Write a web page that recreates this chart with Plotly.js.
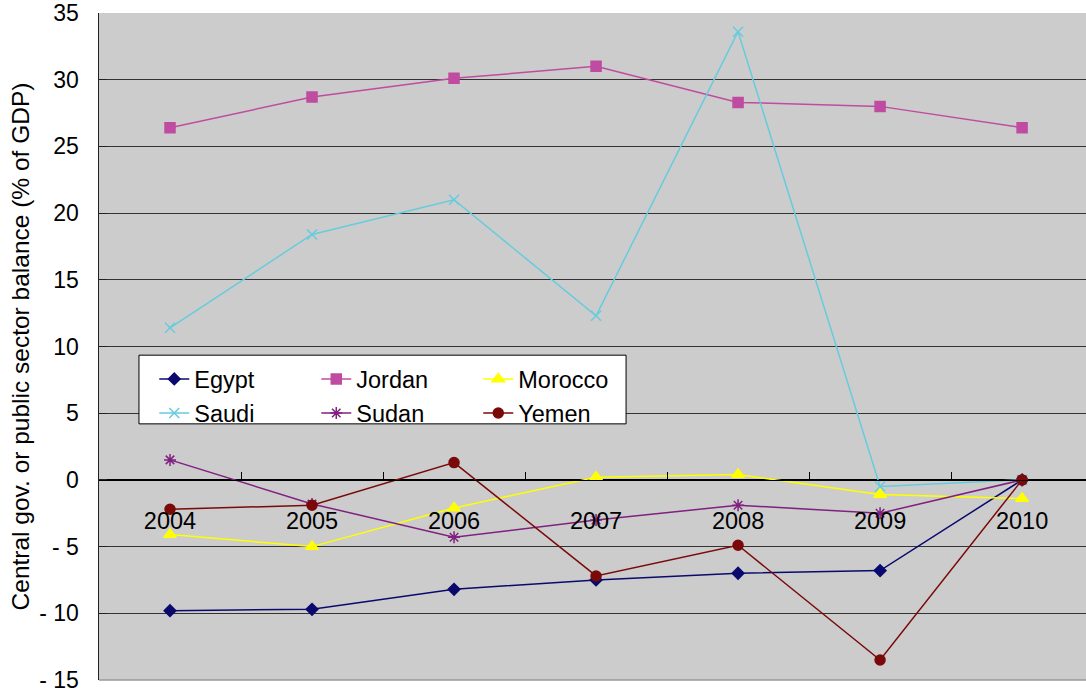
<!DOCTYPE html>
<html>
<head>
<meta charset="utf-8">
<script src="https://cdn.plot.ly/plotly-3.0.1.min.js"></script>
<style>html,body{margin:0;padding:0;background:#fff;}#chart{width:1086px;height:699px;}</style>
</head>
<body>
<div id="chart"></div>
<script>
const years = ['2004','2005','2006','2007','2008','2009','2010'];
const egypt   = [-9.8, -9.7, -8.2, -7.5, -7.0, -6.8, 0.0];
const jordan  = [26.4, 28.7, 30.1, 31.0, 28.3, 28.0, 26.4];
const morocco = [-4.1, -5.0, -2.1, 0.2, 0.4, -1.1, -1.4];
const saudi   = [11.4, 18.4, 21.0, 12.3, 33.6, -0.5, 0.0];
const sudan   = [1.5, -1.8, -4.3, -3.0, -1.9, -2.5, 0.0];
const yemen   = [-2.2, -1.9, 1.3, -7.2, -4.9, -13.5, 0.0];
const yTickVals = [-15, -10, -5, 0, 5, 10, 15, 20, 25, 30, 35];
const yTickText = ['- 15', '- 10', '- 5', '0', '5', '10', '15', '20', '25', '30', '35'];

const FONT = 'Liberation Sans, Arial, sans-serif';

function tr(name, y, color, symbol, size, legend) {
  return {
    type: 'scatter', mode: 'lines+markers', name: name, x: years, y: y,
    line: {color: color, width: 1.5},
    marker: {color: color, symbol: symbol, size: size, line: {color: color, width: 1.5}},
    legend: legend
  };
}

const data = [
  tr('Egypt', egypt, '#0A0A6E', 'diamond', 9, 'legend'),
  tr('Jordan', jordan, '#BF4CA0', 'square', 10, 'legend'),
  tr('Morocco', morocco, '#FFFF00', 'triangle-up', 11, 'legend'),
  tr('Saudi', saudi, '#66CCDD', 'x-thin-open', 10, 'legend2'),
  tr('Sudan', sudan, '#802080', 'asterisk-open', 10, 'legend2'),
  tr('Yemen', yemen, '#7A0A0A', 'circle', 10, 'legend2')
];

const legendCommon = {
  orientation: 'h', xanchor: 'left', yanchor: 'middle',
  bgcolor: 'rgba(0,0,0,0)', borderwidth: 0,
  font: {family: FONT, size: 23.5, color: '#000'},
  entrywidth: 117, entrywidthmode: 'pixels', itemclick: false
};

const layout = {
  width: 1086, height: 699,
  margin: {l: 99, r: 0, t: 13, b: 19},
  paper_bgcolor: '#ffffff',
  plot_bgcolor: '#CCCCCC',
  font: {family: FONT, size: 23, color: '#000'},
  showlegend: true,
  legend: Object.assign({x: 0.056, y: 0.451}, legendCommon),
  legend2: Object.assign({x: 0.056, y: 0.400}, legendCommon),
  xaxis: {
    type: 'category', range: [-0.5, 6.45],
    anchor: 'free', position: 0.3,
    showline: true, linecolor: '#000', linewidth: 1,
    showgrid: false, zeroline: false,
    ticks: 'inside', ticklen: 8, tickcolor: '#000', tickwidth: 1,
    tickson: 'boundaries',
    ticklabelstandoff: 20,
    tickfont: {family: FONT, size: 23.5, color: '#000'}
  },
  yaxis: {
    range: [-15, 35],
    tickmode: 'array', tickvals: yTickVals, ticktext: yTickText,
    showline: true, linecolor: '#222', linewidth: 1.5,
    showgrid: true, gridcolor: '#333', gridwidth: 1,
    zeroline: true, zerolinecolor: '#000', zerolinewidth: 1,
    ticks: 'inside', ticklen: 8, tickcolor: '#222',
    ticklabelstandoff: 14,
    tickfont: {family: FONT, size: 23, color: '#000'},
    title: {text: 'Central gov. or public sector balance (% of GDP)', standoff: 2,
            font: {family: FONT, size: 24.5, color: '#000'}}
  },
  shapes: [
    {type: 'rect', xref: 'paper', yref: 'paper', x0: 0.0405, x1: 0.534, y0: 0.384, y1: 0.487,
     fillcolor: '#ffffff', line: {color: '#000', width: 1}, layer: 'above'},
    {type: 'line', xref: 'paper', yref: 'paper', x0: 0, x1: 1, y0: 0, y1: 0,
     line: {color: '#999', width: 1.5}, layer: 'below'}
  ]
};

Plotly.newPlot('chart', data, layout, {displayModeBar: false, staticPlot: true});
</script>
</body>
</html>
